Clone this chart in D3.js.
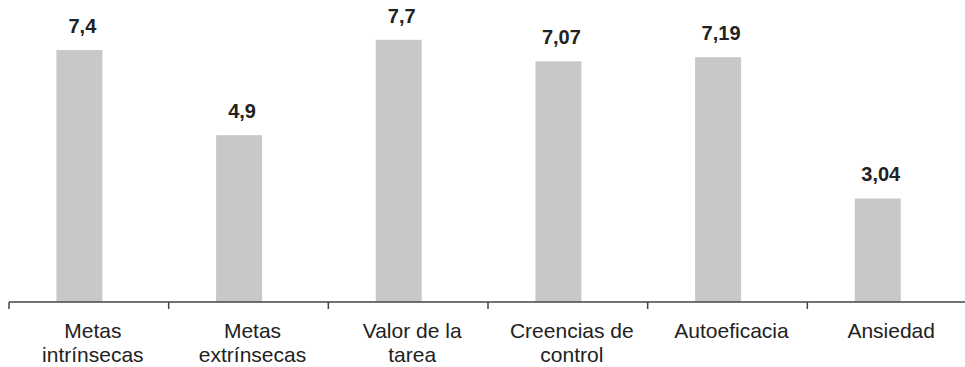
<!DOCTYPE html>
<html>
<head>
<meta charset="utf-8">
<script src="https://cdn.jsdelivr.net/npm/d3@7"></script>
<style>
  body { margin: 0; background: #fff; }
  svg { display: block; font-family: "Liberation Sans", Arial, sans-serif; }
</style>
</head>
<body>
<svg id="chart" width="965" height="367"></svg>
<script>
// categories (each split into the lines shown under the axis)
const categories = ["Metas intrínsecas", "Metas extrínsecas", "Valor de la tarea",
                    "Creencias de control", "Autoeficacia", "Ansiedad"];
const labelLines = [["Metas", "intrínsecas"], ["Metas", "extrínsecas"], ["Valor de la", "tarea"],
                    ["Creencias de", "control"], ["Autoeficacia"], ["Ansiedad"]];
const values = [7.4, 4.9, 7.7, 7.07, 7.19, 3.04];

const svg = d3.select("#chart");
const baseY = 302;

// band scale for categories, linear scale for values
let x = d3.scaleBand().domain(categories).range([9, 967]).padding(0);
let y = d3.scaleLinear().domain([0, 8.87]).range([baseY, 0]);

let bw = x.bandwidth();
let barW = bw * 0.288;
let barOff = bw * 0.297;

// bars
svg.append("g").selectAll("rect")
    .data(values)
    .enter().append("rect")
    .attr("x", (d, i) => x(categories[i]) + barOff)
    .attr("y", d => y(d))
    .attr("width", barW)
    .attr("height", d => baseY - y(d))
    .attr("fill", "#c8c8ca");

// value labels, decimal comma
let fmt = d => String(d).replace(".", ",");
svg.append("g").selectAll("text")
    .data(values)
    .enter().append("text")
    .attr("x", (d, i) => x(categories[i]) + barOff + barW / 2 + 3)
    .attr("y", d => y(d) - 17)
    .attr("text-anchor", "middle")
    .attr("font-size", 20)
    .attr("font-weight", "bold")
    .attr("fill", "#222")
    .text(fmt);

// x axis: ticks at band boundaries
let axis = d3.axisBottom(x).tickSize(0).tickFormat("");
let gAxis = svg.append("g").attr("transform", `translate(0,${baseY})`).call(axis);
gAxis.select(".domain").attr("stroke", "#444").attr("stroke-width", 1.5)
    .attr("d", `M${x.range()[0]},0H965`);

let bounds = categories.map(c => x(c)).concat([x.range()[1]]);
gAxis.selectAll("line.sep")
    .data(bounds)
    .enter().append("line")
    .attr("class", "sep")
    .attr("x1", d => d).attr("x2", d => d)
    .attr("y1", 0).attr("y2", 7)
    .attr("stroke", "#444")
    .attr("stroke-width", 1.5);

// category labels
let labels = svg.append("g").selectAll("text")
    .data(labelLines)
    .enter().append("text")
    .attr("text-anchor", "middle")
    .attr("font-size", 21)
    .attr("fill", "#222");

labels.selectAll("tspan")
    .data((d, i) => d.map(t => ({ t: t, i: i })))
    .enter().append("tspan")
    .attr("x", d => x(categories[d.i]) + bw / 2 + 4)
    .attr("y", (d, j) => 338 + j * 24)
    .text(d => d.t);
</script>
</body>
</html>
